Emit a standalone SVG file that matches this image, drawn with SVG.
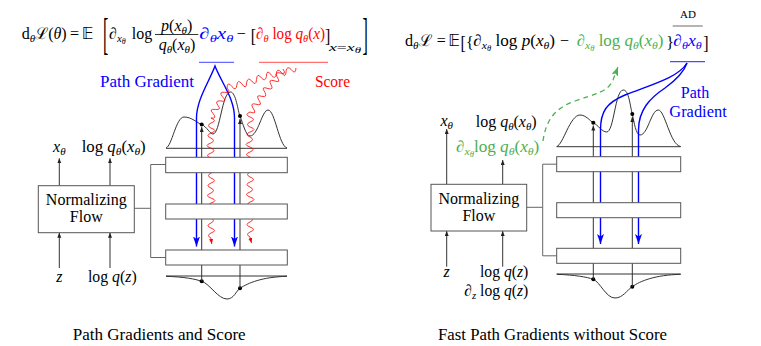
<svg xmlns="http://www.w3.org/2000/svg" width="761" height="346" viewBox="0 0 761 346">
<style>
text{font-family:"Liberation Serif","DejaVu Serif",serif;font-size:16px;fill:#000}
.i{font-style:italic}
.s{font-size:11px}
.ss{font-size:8px}
.cal{font-family:"DejaVu Serif",serif;font-style:normal}
.bb{font-family:"DejaVu Sans",sans-serif}
.blue{fill:#0000ff}
.red{fill:#ff0000}
.green{fill:#4caf50}
.box{fill:#fff;stroke:#555;stroke-width:1}
.ln{fill:none;stroke:#333;stroke-width:1}
.gl{fill:none;stroke:#666;stroke-width:1}
.bp{fill:none;stroke:#0000ff;stroke-width:1.4}
.rp{fill:none;stroke:#ff0000;stroke-width:0.8}
</style>
<defs>
<marker id="ak" markerUnits="userSpaceOnUse" markerWidth="6" markerHeight="5" refX="5" refY="2" orient="auto"><path d="M0,0 L5,2 L0,4 z" fill="#222"/></marker>
<marker id="ab" markerUnits="userSpaceOnUse" markerWidth="11" markerHeight="8" refX="10" refY="3.5" orient="auto-start-reverse"><path d="M0,0 L10,3.5 L0,7 L2.5,3.5 z" fill="#0000ff"/></marker>
<marker id="ar" markerUnits="userSpaceOnUse" markerWidth="6" markerHeight="5" refX="5" refY="2" orient="auto"><path d="M0,0 L5,2 L0,4 z" fill="#ff0000"/></marker>
<marker id="ag" markerUnits="userSpaceOnUse" markerWidth="10" markerHeight="8" refX="9" refY="3.5" orient="auto"><path d="M0,0 L9,3.5 L0,7 L2,3.5 z" fill="#4caf50"/></marker>
</defs>

<!-- ===== LEFT EQUATION ===== -->
<g id="eq-left">
<text x="21.7" y="38.5" textLength="45" lengthAdjust="spacingAndGlyphs">d<tspan class="s i" dy="3">θ</tspan><tspan class="cal" dy="-3">ℒ</tspan>(<tspan class="i">θ</tspan>)</text>
<text x="70" y="38.5">=</text>
<text x="81.7" y="38.5" class="bb">𝔼</text>
<text transform="translate(103,48.7) scale(1,2.8)">[</text>
<text x="109" y="38.5">∂<tspan class="s i" dy="3">x</tspan><tspan class="ss i" dy="2">θ</tspan></text>
<text x="131.7" y="38.5">log</text>
<text x="176.7" y="31" text-anchor="middle"><tspan class="i">p</tspan>(<tspan class="i">x</tspan><tspan class="s i" dy="3">θ</tspan><tspan dy="-3">)</tspan></text>
<line x1="155" y1="34.5" x2="198.3" y2="34.5" stroke="#000" stroke-width="0.8"/>
<text x="177" y="50" text-anchor="middle"><tspan class="i">q</tspan><tspan class="s i" dy="3">θ</tspan><tspan dy="-3">(</tspan><tspan class="i">x</tspan><tspan class="s i" dy="3">θ</tspan><tspan dy="-3">)</tspan></text>
<text x="199.3" y="38.5" class="blue" textLength="34" lengthAdjust="spacingAndGlyphs">∂<tspan class="s i" dy="3">θ</tspan><tspan class="i" dy="-3">x</tspan><tspan class="s i" dy="3">θ</tspan></text>
<text x="236.7" y="38.5">−</text>
<text transform="translate(250.7,42) scale(1,1.2)">[</text>
<text x="256" y="38.5" class="red" textLength="69" lengthAdjust="spacingAndGlyphs">∂<tspan class="s i" dy="3">θ</tspan><tspan dy="-3"> log </tspan><tspan class="i">q</tspan><tspan class="s i" dy="3">θ</tspan><tspan dy="-3">(</tspan><tspan class="i">x</tspan>)</text>
<text transform="translate(325,42) scale(1,1.2)">]</text>
<text x="329" y="51" class="s" textLength="32" lengthAdjust="spacingAndGlyphs"><tspan class="i">x</tspan>=<tspan class="i">x</tspan><tspan class="ss i" dy="2">θ</tspan></text>
<text transform="translate(362.5,48.7) scale(1,2.8)">]</text>
<line x1="199" y1="62.3" x2="234" y2="62.3" stroke="#6a6aff" stroke-width="1.2"/>
<line x1="259" y1="62.3" x2="328" y2="62.3" stroke="#ff7070" stroke-width="1.2"/>
</g>

<!-- ===== RIGHT EQUATION ===== -->
<g id="eq-right">
<text x="405" y="45.5" textLength="26.7" lengthAdjust="spacingAndGlyphs">d<tspan class="s i" dy="3">θ</tspan><tspan class="cal" dy="-3">ℒ</tspan></text>
<text x="436.7" y="45.5">=</text>
<text x="448.3" y="45.5" class="bb">𝔼</text>
<text transform="translate(460.5,49) scale(1,1.2)">[</text>
<text transform="translate(466,48) scale(1,1.1)">{</text>
<text x="473.3" y="45.5" textLength="81.7" lengthAdjust="spacingAndGlyphs">∂<tspan class="s i" dy="3">x</tspan><tspan class="ss i" dy="2">θ</tspan><tspan dy="-5"> log </tspan><tspan class="i">p</tspan>(<tspan class="i">x</tspan><tspan class="s i" dy="3">θ</tspan><tspan dy="-3">)</tspan></text>
<text x="560" y="45.5">−</text>
<text x="576.7" y="45.5" class="green" textLength="86.6" lengthAdjust="spacingAndGlyphs">∂<tspan class="s i" dy="3">x</tspan><tspan class="ss i" dy="2">θ</tspan><tspan dy="-5"> log </tspan><tspan class="i">q</tspan><tspan class="s i" dy="3">θ</tspan><tspan dy="-3">(</tspan><tspan class="i">x</tspan><tspan class="s i" dy="3">θ</tspan><tspan dy="-3">)</tspan></text>
<text transform="translate(666.3,48) scale(1,1.1)">}</text>
<text x="673.3" y="45.5" class="blue" textLength="28.4" lengthAdjust="spacingAndGlyphs">∂<tspan class="s i" dy="3">θ</tspan><tspan class="i" dy="-3">x</tspan><tspan class="s i" dy="3">θ</tspan></text>
<text transform="translate(703.3,49) scale(1,1.2)">]</text>
<text x="688" y="18.3" text-anchor="middle" style="font-size:11px">AD</text>
<line x1="672.7" y1="26" x2="702.7" y2="26" stroke="#444" stroke-width="0.8"/>
<line x1="670" y1="61.7" x2="705" y2="61.7" stroke="#4a4aff" stroke-width="1.2"/>
</g>

<!-- ===== LEFT PANEL ===== -->
<g id="dens-left">
<path class="ln" d="M166,148.3 H287"/>
<path class="ln" d="M166,148 C172,146 176,117 184,117 C192,117 197,123 201.7,124.5 C207,127 210,134 213,134 C220,134 222,92 230.5,92 C236,92 238,112 240,116 C243,124 246,136 250,136 C258,136 262,110 268,110 C275,110 279,146 287,148"/>
<path class="ln" d="M166,276 H287"/>
<path class="ln" d="M166,276.3 C185,277 195,279 201.7,281.3 C210,284 218,299 227,299 C234,299 236,291 240,288.3 C248,283 262,277 287,276.3"/>
<circle cx="201.7" cy="124.5" r="2"/>
<circle cx="240" cy="116" r="2"/>
<circle cx="201.7" cy="281.3" r="2"/>
<circle cx="240" cy="288.3" r="2"/>
</g>

<g id="connectors-left">
<line class="ln" x1="201.7" y1="281.3" x2="201.7" y2="127" marker-end="url(#ak)"/>
<line class="ln" x1="240" y1="288.3" x2="240" y2="119" marker-end="url(#ak)"/>
<path class="bp" d="M196.5,246.5 V118 C196.5,100 209,82 215,66 C221,82 234.5,98 234.5,118 V246.5" marker-start="url(#ab)" marker-end="url(#ab)"/>
<path class="rp" d="M296,68 q-0.51,7.44 -4.93,1.43 q-3.87,-4.08 -4.93,1.43 q-0.23,8.4 -4.93,1.43 q-4.15,-5.04 -4.93,1.43 q-0.79,6.48 -4.93,1.43 q-4.71,-6.96 -4.93,1.43 q-1.07,5.52 -4.93,1.43 q-4.43,-6 -4.93,1.43 q-0.51,7.44 -4.93,1.43 q-3.87,-4.08 -4.93,1.43 q-0.23,8.4 -4.93,1.43 q-4.15,-5.04 -4.93,1.43 q-0.79,6.48 -4.93,1.43 q-4.43,-6 -4.93,1.43 q5.02,5.43 -2.29,4.29 q-6.42,-0.68 -2.29,4.29 q5.9,5.9 -2.29,4.29 q-5.54,-0.21 -2.29,4.29 q4.14,4.96 -2.29,4.29 q-7.3,-1.15 -2.29,4.29 q4.14,4.96 -2.29,4.29 q7,2.5 0,5 q-5,2.5 0,5 q8,2.5 0,5 q-6,2.5 0,5 q5,2.5 0,5 q-8,2.5 0,5 q6,2.5 0,5 q-7,2.5 0,5 q4,2.5 0,5 q-6,2.5 0,5 q8,2.5 0,5 q-5,2.5 0,5 q7,2.5 0,5 q-6,2.5 0,5 q5,2.5 0,5 q-7,2.5 0,5 q8,2.5 0,5 q-5,2.5 0,5 q6,2.5 0,5 q-8,2.5 0,5 q5,2.5 0,5 q-6,2.5 0,5 q7,2.5 0,5 q-5,2.5 0,5 l0.8,6" marker-end="url(#ar)"/>
<path class="rp" d="M283,69 q4.03,6.22 -3,3.91 q-5.45,-1.1 -3,3.91 q4.82,6.83 -3,3.91 q-6.24,-1.71 -3,3.91 q3.24,5.61 -3,3.91 q-7.82,-2.93 -3,3.91 q2.45,5 -3,3.91 q-7.03,-2.32 -3,3.91 q4.03,6.22 -3,3.91 q-6.24,-1.71 -3,3.91 q4.82,6.83 -3,3.91 q-6,2.5 0,5 q7,2.5 0,5 q-5,2.5 0,5 q8,2.5 0,5 q-6,2.5 0,5 q5,2.5 0,5 q-8,2.5 0,5 q6,2.5 0,5 q-7,2.5 0,5 q4,2.5 0,5 q-6,2.5 0,5 q8,2.5 0,5 q-5,2.5 0,5 q7,2.5 0,5 q-6,2.5 0,5 q5,2.5 0,5 q-7,2.5 0,5 q8,2.5 0,5 q-5,2.5 0,5 q6,2.5 0,5 q-8,2.5 0,5 q5,2.5 0,5 q-6,2.5 0,5 q7,2.5 0,5 q-5,2.5 0,5 l1.5,6" marker-end="url(#ar)"/>
<path class="gl" d="M134.3,208.3 H150.7 M165.7,164.5 H150.7 V257.5 H165.7"/>
<line class="ln" x1="59.3" y1="185.7" x2="59.3" y2="158.3" marker-end="url(#ak)"/>
<line class="ln" x1="110" y1="185.7" x2="110" y2="158.3" marker-end="url(#ak)"/>
<line class="ln" x1="59.3" y1="268" x2="59.3" y2="232.7" marker-end="url(#ak)"/>
<line class="ln" x1="110" y1="268" x2="110" y2="232.7" marker-end="url(#ak)"/>
</g>

<g id="layers-left">
<rect class="box" x="165.7" y="157.3" width="121.6" height="15.4"/>
<rect class="box" x="165.7" y="204" width="121.6" height="15"/>
<rect class="box" x="165.7" y="250" width="121.6" height="15"/>
</g>

<g id="nf-left">
<rect class="box" x="38.3" y="185.7" width="96" height="47"/>
<text x="86.3" y="204.5" text-anchor="middle">Normalizing</text>
<text x="86.3" y="222" text-anchor="middle">Flow</text>
</g>

<g id="labels-left">
<text x="59.3" y="151.7" text-anchor="middle"><tspan class="i">x</tspan><tspan class="s i" dy="3">θ</tspan></text>
<text x="113.7" y="151.7" text-anchor="middle" textLength="64" lengthAdjust="spacingAndGlyphs">log <tspan class="i">q</tspan><tspan class="s i" dy="3">θ</tspan><tspan dy="-3">(</tspan><tspan class="i">x</tspan><tspan class="s i" dy="3">θ</tspan><tspan dy="-3">)</tspan></text>
<text x="59.3" y="281.7" text-anchor="middle" class="i">z</text>
<text x="112.3" y="282" text-anchor="middle" textLength="48.7" lengthAdjust="spacingAndGlyphs">log <tspan class="i">q</tspan>(<tspan class="i">z</tspan>)</text>
<text x="100" y="87.3" class="blue" textLength="94" lengthAdjust="spacingAndGlyphs">Path Gradient</text>
<text x="315" y="87.3" class="red" textLength="35" lengthAdjust="spacingAndGlyphs">Score</text>
<text x="72.7" y="340" textLength="173" lengthAdjust="spacingAndGlyphs">Path Gradients and Score</text>
</g>

<!-- ===== RIGHT PANEL ===== -->
<g id="dens-right">
<path class="ln" d="M556.7,146.7 H680.7"/>
<path class="ln" d="M556.7,146.5 C563,145 570,115 580,115 C586,115 590,121 593.3,122.7 C598,125 602,132 606.7,132 C614,132 615,90 623.3,90 C629,90 630,106 632.3,114 C634,122 636,135 640,135 C648,135 651,110 658.3,110 C665,110 670,145 680.7,146.5"/>
<path class="ln" d="M556.7,274 H680.7"/>
<path class="ln" d="M556.7,274.3 C575,275 587,277 593.3,279.3 C600,282 606,298 615,298 C623,298 627,290 632.3,286.7 C640,281 655,275 680.7,274.3"/>
<circle cx="593.3" cy="122.7" r="2"/>
<circle cx="632.3" cy="114" r="2"/>
<circle cx="593.3" cy="279.3" r="2"/>
<circle cx="632.3" cy="286.7" r="2"/>
</g>

<g id="connectors-right">
<line class="ln" x1="593.3" y1="279.3" x2="593.3" y2="125.5" marker-end="url(#ak)"/>
<line class="ln" x1="632.3" y1="286.7" x2="632.3" y2="117" marker-end="url(#ak)"/>
<path class="bp" d="M600.5,244 V130 C600.5,112 606,103 625,95 C650,85 678,78 687,63" marker-start="url(#ab)"/>
<path class="bp" d="M638.5,244 V130 C638.5,110 650,98 665,88 C676,80 684,72 687,63" marker-start="url(#ab)"/>
<path d="M543,141 C546,120 555,108 575,101 C595,94 608,92 613,80 L618,67" fill="none" stroke="#4caf50" stroke-width="1.3" stroke-dasharray="5,4" marker-end="url(#ag)"/>
<path class="gl" d="M526.7,207.3 H542.7 M556.7,164.2 H542.7 V255.8 H556.7"/>
<line class="ln" x1="446.7" y1="184.3" x2="446.7" y2="129" marker-end="url(#ak)"/>
<line class="ln" x1="502.7" y1="184.3" x2="502.7" y2="160" marker-end="url(#ak)"/>
<line class="ln" x1="446.7" y1="266.7" x2="446.7" y2="231" marker-end="url(#ak)"/>
<line class="ln" x1="502.7" y1="266.7" x2="502.7" y2="231" marker-end="url(#ak)"/>
</g>

<g id="layers-right">
<rect class="box" x="556.7" y="156.7" width="124" height="15"/>
<rect class="box" x="556.7" y="202.7" width="124" height="15"/>
<rect class="box" x="556.7" y="248.3" width="124" height="15"/>
</g>

<g id="nf-right">
<rect class="box" x="431" y="184.3" width="95.7" height="46.7"/>
<text x="478.9" y="203.5" text-anchor="middle">Normalizing</text>
<text x="478.9" y="221" text-anchor="middle">Flow</text>
</g>

<g id="labels-right">
<text x="446.7" y="126" text-anchor="middle"><tspan class="i">x</tspan><tspan class="s i" dy="3">θ</tspan></text>
<text x="475.7" y="127" textLength="61" lengthAdjust="spacingAndGlyphs">log <tspan class="i">q</tspan><tspan class="s i" dy="3">θ</tspan><tspan dy="-3">(</tspan><tspan class="i">x</tspan><tspan class="s i" dy="3">θ</tspan><tspan dy="-3">)</tspan></text>
<text x="456" y="151.7" class="green" textLength="83.3" lengthAdjust="spacingAndGlyphs">∂<tspan class="s i" dy="3">x</tspan><tspan class="ss i" dy="2">θ</tspan><tspan dy="-5">log </tspan><tspan class="i">q</tspan><tspan class="s i" dy="3">θ</tspan><tspan dy="-3">(</tspan><tspan class="i">x</tspan><tspan class="s i" dy="3">θ</tspan><tspan dy="-3">)</tspan></text>
<text x="446.7" y="277" text-anchor="middle" class="i">z</text>
<text x="480" y="277" textLength="48.3" lengthAdjust="spacingAndGlyphs">log <tspan class="i">q</tspan>(<tspan class="i">z</tspan>)</text>
<text x="464.3" y="296" textLength="64" lengthAdjust="spacingAndGlyphs">∂<tspan class="s i" dy="3">z</tspan><tspan dy="-3"> log </tspan><tspan class="i">q</tspan>(<tspan class="i">z</tspan>)</text>
<text x="695" y="97.7" text-anchor="middle" class="blue">Path</text>
<text x="669.3" y="116.7" class="blue" textLength="57.4" lengthAdjust="spacingAndGlyphs">Gradient</text>
<text x="438" y="340" textLength="229" lengthAdjust="spacingAndGlyphs">Fast Path Gradients without Score</text>
</g>
</svg>
